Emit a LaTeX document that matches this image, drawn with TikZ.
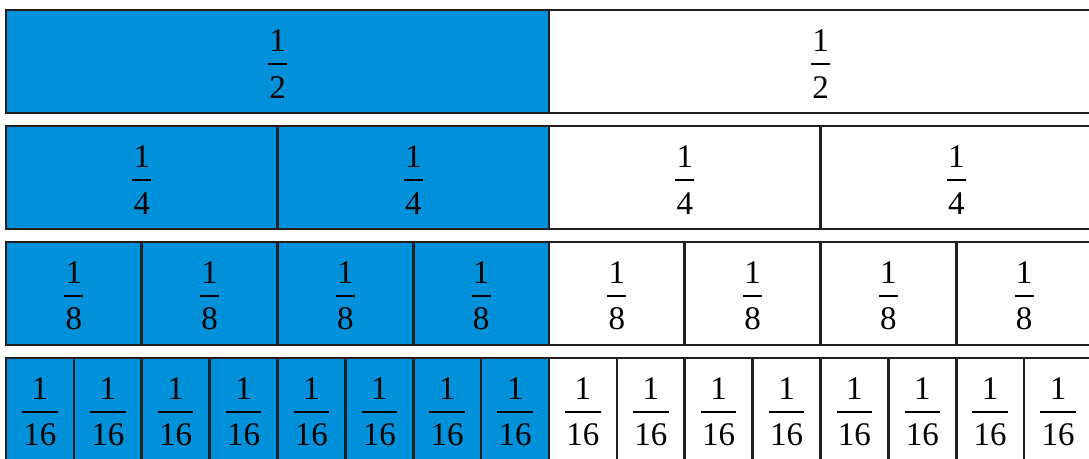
\documentclass[tikz,border=0pt]{standalone}
\usepackage{fontspec}
\setmainfont{Liberation Serif}
\definecolor{cellblue}{RGB}{0,145,218}
\definecolor{edgecol}{RGB}{35,31,32}
\newcommand\stackfrac[2]{%
  \setbox0\hbox{#2}\setbox1\hbox{#1}%
  \dimen0=\ifdim\wd0>\wd1 \wd0\else\wd1\fi
  \advance\dimen0 by 2.5pt
  \vbox{\hbox to\dimen0{\hss\box1\hss}\kern 11pt
    \hrule height 2pt width \dimen0 \kern 11.5pt
    \hbox to\dimen0{\hss\box0\hss}}}
\begin{document}
\begin{tikzpicture}[x=1pt,y=-1pt,
  cell/.style={draw=edgecol, line width=2.6pt, minimum height=103pt, inner sep=0pt, outer sep=0pt, anchor=north west},
  lab/.style={font=\fontsize{33}{38}\selectfont, inner sep=0pt}]
\useasboundingbox (0,0) rectangle (1089,458);
\clip (0,0) rectangle (1089,458);
\foreach \r/\n/\h in {0/2/1,1/4/2,2/8/4,3/16/8}{
  \pgfmathsetmacro\w{1086/\n}
  \pgfmathsetmacro\yt{10+\r*116}
  \foreach \i in {1,...,\n}{
    \pgfmathsetmacro\xl{6+(\i-1)*\w}
    \ifnum\i>\h \def\fc{white}\else\def\fc{cellblue}\fi
    \node[cell, fill=\fc, minimum width=\w pt] (c\r-\i) at (\xl,\yt) {};
    \node[lab] (t\r-\i) at ([yshift=-2.5pt]c\r-\i.center) {\stackfrac{1}{\n}};
  }
}
\end{tikzpicture}
\end{document}
